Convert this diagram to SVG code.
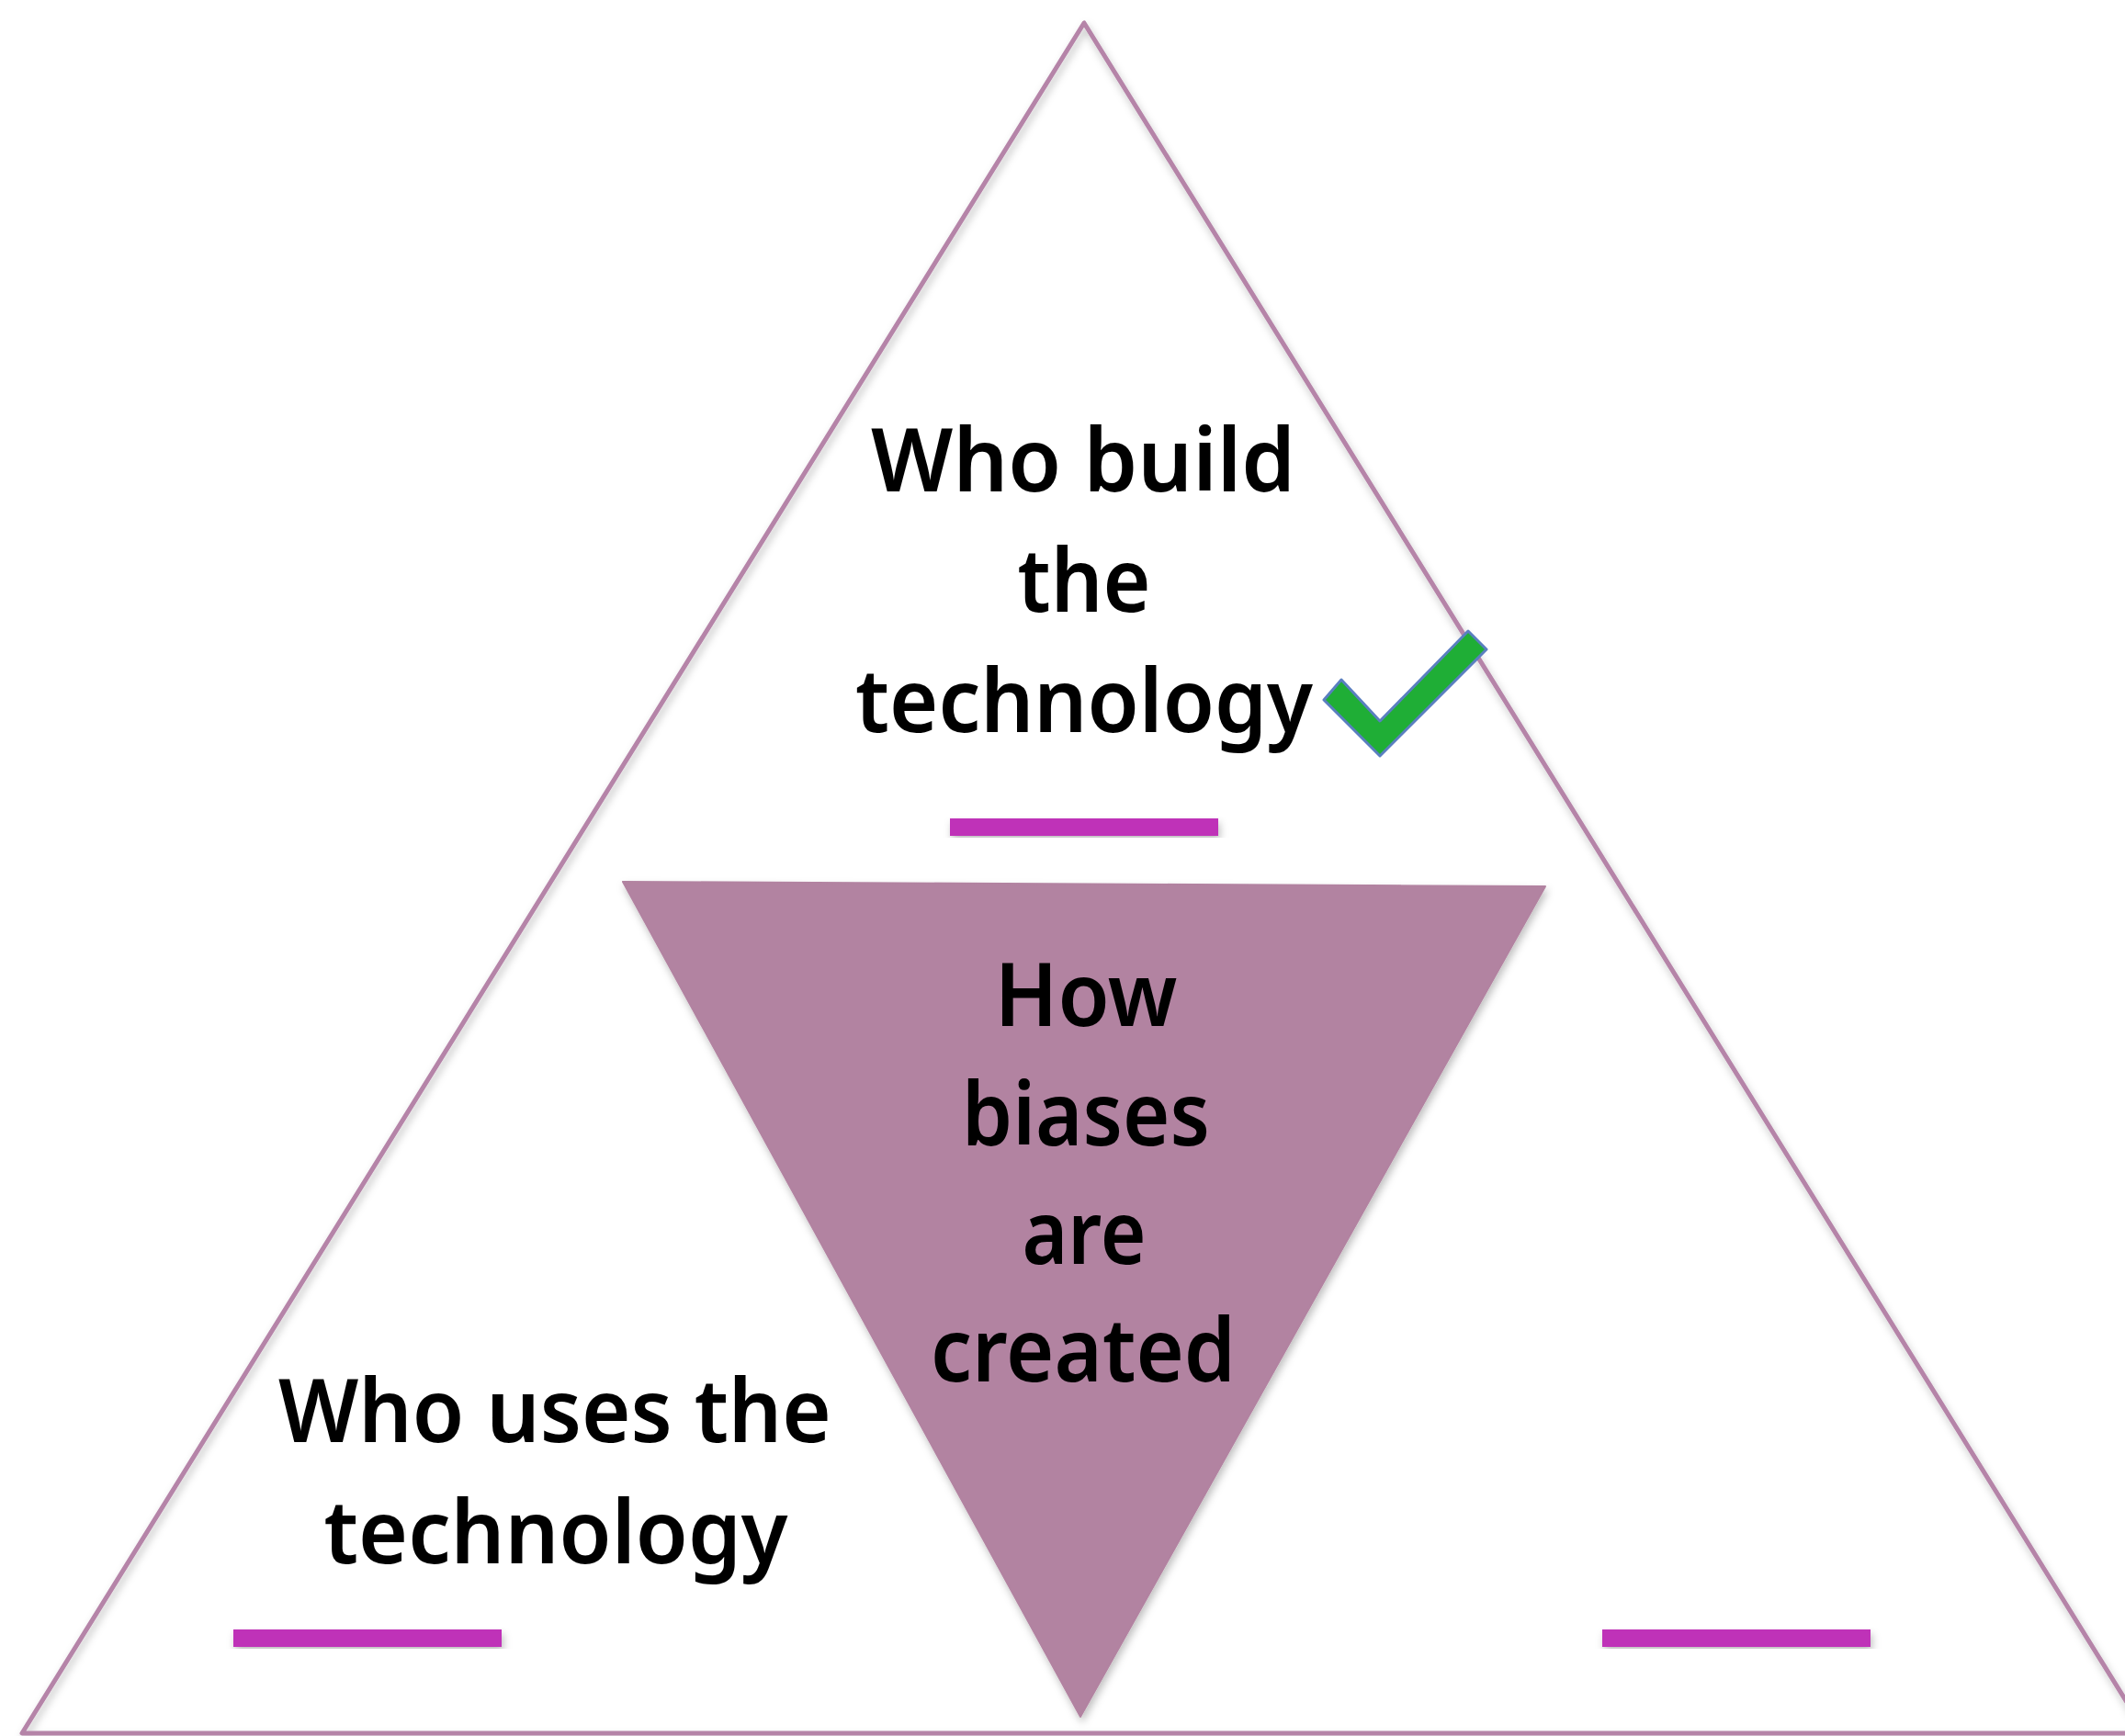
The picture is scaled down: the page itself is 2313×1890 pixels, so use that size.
<svg xmlns="http://www.w3.org/2000/svg" width="2313" height="1890" viewBox="0 0 2313 1890">
  <defs>
    <filter id="sh" x="-10%" y="-10%" width="120%" height="120%">
      <feDropShadow dx="2" dy="5" stdDeviation="4" flood-color="#000" flood-opacity="0.25"/>
    </filter>
    <style>
      .lbl { font-family: "Noto Sans", "Lato", sans-serif; font-weight: 600; font-size: 95px; fill: #000; text-anchor: middle; }
      .bar { fill: #bf32b8; filter: url(#sh); }
    </style>
  </defs>
  <rect width="2313" height="1890" fill="#fff"/>
  <g id="outer-triangle">
    <polygon points="1180,25 24,1887 2336,1887" fill="none" stroke="#b584a8" stroke-width="5" stroke-linejoin="round" filter="url(#sh)"/>
  </g>
  <g id="inner-triangle">
    <polygon points="678,960 1682,965 1176,1869" fill="#b283a1" stroke="#b283a1" stroke-width="2" stroke-linejoin="round" filter="url(#sh)"/>
    <text class="lbl" x="1182" y="1117" textLength="199" lengthAdjust="spacingAndGlyphs">How</text>
    <text class="lbl" x="1182" y="1247" textLength="270" lengthAdjust="spacingAndGlyphs">biases</text>
    <text class="lbl" x="1180" y="1376" textLength="135" lengthAdjust="spacingAndGlyphs">are</text>
    <text class="lbl" x="1179" y="1504" textLength="332" lengthAdjust="spacingAndGlyphs">created</text>
  </g>
  <g id="top-node">
    <text class="lbl" x="1179" y="535" textLength="462" lengthAdjust="spacingAndGlyphs">Who build</text>
    <text class="lbl" x="1180" y="666" textLength="145" lengthAdjust="spacingAndGlyphs">the</text>
    <text class="lbl" x="1180" y="797" textLength="498" lengthAdjust="spacingAndGlyphs">technology</text>
    <rect class="bar" x="1034" y="891" width="292" height="19"/>
  </g>
  <g id="checkmark">
    <polygon points="1441,762 1460,740 1502,785 1598,687 1618,707 1502,823" fill="#1fae36" stroke="#5a7fc0" stroke-width="3" stroke-linejoin="round"/>
  </g>
  <g id="left-node">
    <text class="lbl" x="604" y="1570" textLength="602" lengthAdjust="spacingAndGlyphs">Who uses the</text>
    <text class="lbl" x="605" y="1702" textLength="505" lengthAdjust="spacingAndGlyphs">technology</text>
    <rect class="bar" x="254" y="1774" width="292" height="19"/>
  </g>
  <g id="right-node">
    <rect class="bar" x="1744" y="1774" width="292" height="19"/>
  </g>
  <g id="connectors"></g>
</svg>
